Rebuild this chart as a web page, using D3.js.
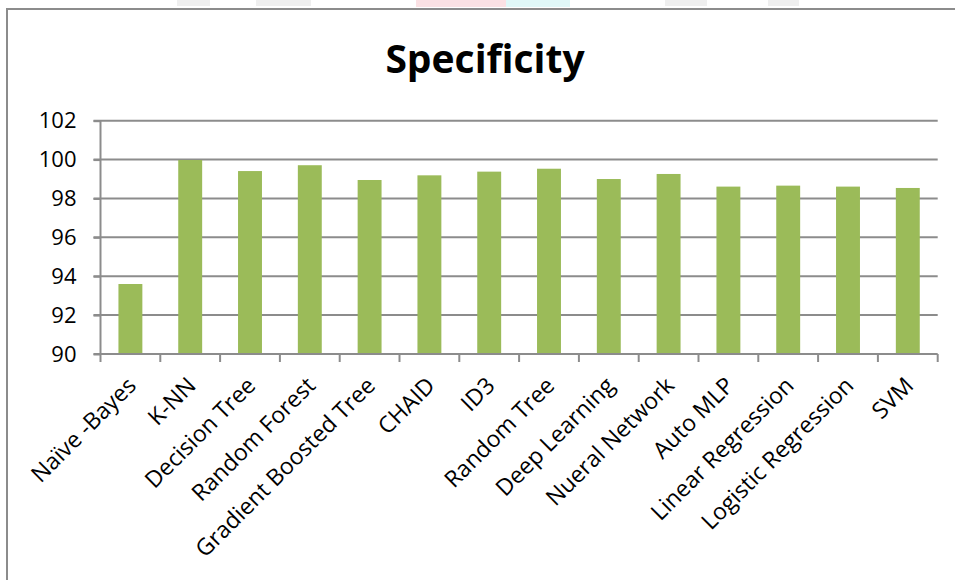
<!DOCTYPE html>
<html>
<head>
<meta charset="utf-8">
<script src="https://cdn.jsdelivr.net/npm/d3@7"></script>
<style>
  html, body { margin: 0; padding: 0; background: #fff; }
  svg { display: block; }
  text { font-family: "Open Sans", "Noto Sans", sans-serif; fill: #000; }
</style>
</head>
<body>
<svg id="chart" width="955" height="580"></svg>
<script>
// Specificity per classifier (%)
const categories = [
  "Naïve -Bayes", "K-NN", "Decision Tree", "Random Forest", "Gradient Boosted Tree",
  "CHAID", "ID3", "Random Tree", "Deep Learning", "Nueral Network",
  "Auto MLP", "Linear Regression", "Logistic Regression", "SVM"
];
const specificity = [
  93.6, 99.98, 99.41, 99.71, 98.95,
  99.19, 99.38, 99.53, 99.0, 99.26,
  98.61, 98.66, 98.61, 98.54
];
const yTicks = [90, 92, 94, 96, 98, 100, 102];
const chartTitle = "Specificity";

const svg = d3.select("#chart");

// faint page header bleeding in above the chart frame
const header = svg.append("g").attr("opacity", 0.55);
header.append("rect").attr("x", 416).attr("y", 0).attr("width", 90).attr("height", 7).attr("fill", "#f9c9cf");
header.append("rect").attr("x", 506).attr("y", 0).attr("width", 64).attr("height", 7).attr("fill", "#c8f3f3");
[[177, 33], [256, 55], [665, 42], [768, 31]].forEach(([x, w]) => {
  header.append("rect").attr("x", x).attr("y", 0).attr("width", w).attr("height", 6).attr("fill", "#e2e2e2");
});

// chart frame
svg.append("path")
  .attr("d", "M7,585 V9 H960")
  .attr("fill", "none")
  .attr("stroke", "#8c8c8c")
  .attr("stroke-width", 2);

const plot = { left: 100.5, right: 937.7, top: 120.7, bottom: 354 };

const x = d3.scaleBand()
  .domain(categories)
  .range([plot.left, plot.right])
  .paddingInner(0.6)
  .paddingOuter(0.3);

const y = d3.scaleLinear()
  .domain([90, 102])
  .range([plot.bottom, plot.top]);

// horizontal gridlines
svg.append("g")
  .selectAll("line")
  .data(yTicks.filter(t => t > 90))
  .join("line")
  .attr("x1", plot.left - 7)
  .attr("x2", plot.right)
  .attr("y1", d => y(d))
  .attr("y2", d => y(d))
  .attr("stroke", "#8c8c8c")
  .attr("stroke-width", 2);

// bars
svg.append("g")
  .selectAll("rect")
  .data(categories)
  .join("rect")
  .attr("x", d => x(d))
  .attr("width", x.bandwidth())
  .attr("y", (d, i) => y(specificity[i]))
  .attr("height", (d, i) => y(90) - y(specificity[i]))
  .attr("fill", "#9bbb59");

// y axis
const yAxis = svg.append("g")
  .attr("transform", `translate(${plot.left},0)`)
  .call(d3.axisLeft(y).tickValues(yTicks).tickSize(7).tickPadding(17).tickFormat(d3.format("d")));
yAxis.select(".domain").attr("stroke", "#8c8c8c").attr("stroke-width", 2).attr("d", `M0,${plot.top}V${plot.bottom}`);
yAxis.selectAll(".tick line").attr("stroke", "#8c8c8c").attr("stroke-width", 2);
yAxis.selectAll(".tick text")
  .style("font-family", "'Open Sans', sans-serif")
  .style("font-size", "22px")
  .attr("fill", "#000");

// x axis line with category boundary ticks
const xg = svg.append("g");
xg.append("line")
  .attr("x1", plot.left - 7).attr("x2", plot.right)
  .attr("y1", plot.bottom).attr("y2", plot.bottom)
  .attr("stroke", "#8c8c8c").attr("stroke-width", 2);
const step = x.step();
xg.selectAll("line.tick")
  .data(d3.range(categories.length + 1))
  .join("line")
  .attr("class", "tick")
  .attr("x1", i => plot.left + i * step)
  .attr("x2", i => plot.left + i * step)
  .attr("y1", plot.bottom)
  .attr("y2", plot.bottom + 8)
  .attr("stroke", "#8c8c8c").attr("stroke-width", 2);

// rotated category labels
xg.selectAll("text")
  .data(categories)
  .join("text")
  .attr("transform", d => `translate(${x(d) + x.bandwidth() / 2 + 7},${plot.bottom + 33}) rotate(-45)`)
  .attr("text-anchor", "end")
  .style("font-size", "23px")
  .text(d => d);

// title
svg.append("text")
  .attr("x", 485)
  .attr("y", 73)
  .attr("text-anchor", "middle")
  .style("font-size", "39px")
  .style("font-weight", "bold")
  .text(chartTitle);
</script>
</body>
</html>
